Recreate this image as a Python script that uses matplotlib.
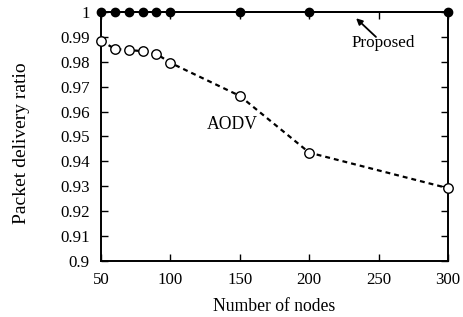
import matplotlib
matplotlib.use("Agg")
import matplotlib.pyplot as plt

nodes = [50, 60, 70, 80, 90, 100, 150, 200, 300]
proposed = [1, 1, 1, 1, 1, 1, 1, 1, 1]
aodv = [0.9885, 0.9852, 0.9847, 0.9843, 0.9832, 0.9796, 0.9663, 0.9435, 0.9292]
xticks = [50, 100, 150, 200, 250, 300]
yticks = [0.9, 0.91, 0.92, 0.93, 0.94, 0.95, 0.96, 0.97, 0.98, 0.99, 1]
ytick_labels = ["0.9", "0.91", "0.92", "0.93", "0.94", "0.95", "0.96", "0.97", "0.98", "0.99", "1"]

plt.rcParams['font.family'] = ['Liberation Serif', 'DejaVu Serif']
plt.rcParams['font.size'] = 12

fig = plt.figure(figsize=(4.63, 3.17), dpi=100)
ax = fig.add_axes([0.218, 0.177, 0.750, 0.785])

ax.plot(nodes, proposed, color='black', lw=1.4, marker='o', ms=6,
        mfc='black', mec='black', clip_on=False, zorder=5)
ax.plot(nodes, aodv, color='black', lw=1.6, ls=(0, (2.2, 1.8)), marker='o', ms=6.8,
        mfc='white', mec='black', mew=1.0, clip_on=False, zorder=5)

ax.set_xlim(50, 300)
ax.set_ylim(0.9, 1.0)
ax.set_xticks(xticks)
ax.set_yticks(yticks)
ax.set_yticklabels(ytick_labels)
ax.tick_params(direction='in', top=True, right=True, length=5, width=1, labelsize=12.2)
ax.tick_params(axis='x', pad=8)
ax.tick_params(axis='y', pad=8)
for s in ax.spines.values():
    s.set_linewidth(1.4)

ax.set_xlabel("Number of nodes", fontsize=12.7)
ax.set_ylabel("Packet delivery ratio", fontsize=14, va='center')
ax.xaxis.set_label_coords(0.5, -0.149)
ax.yaxis.set_label_coords(-0.229, 0.474)

ax.text(144.5, 0.955, "AODV", ha='center', va='center', fontsize=12.7)
ax.text(253, 0.9876, "Proposed", ha='center', va='center', fontsize=12.3)
ax.annotate("", xy=(233.7, 0.9975), xytext=(248, 0.990),
            arrowprops=dict(arrowstyle='-|>', color='black', lw=1.3, mutation_scale=9,
                            shrinkA=0, shrinkB=0))

fig.savefig("out.png", dpi=100)
